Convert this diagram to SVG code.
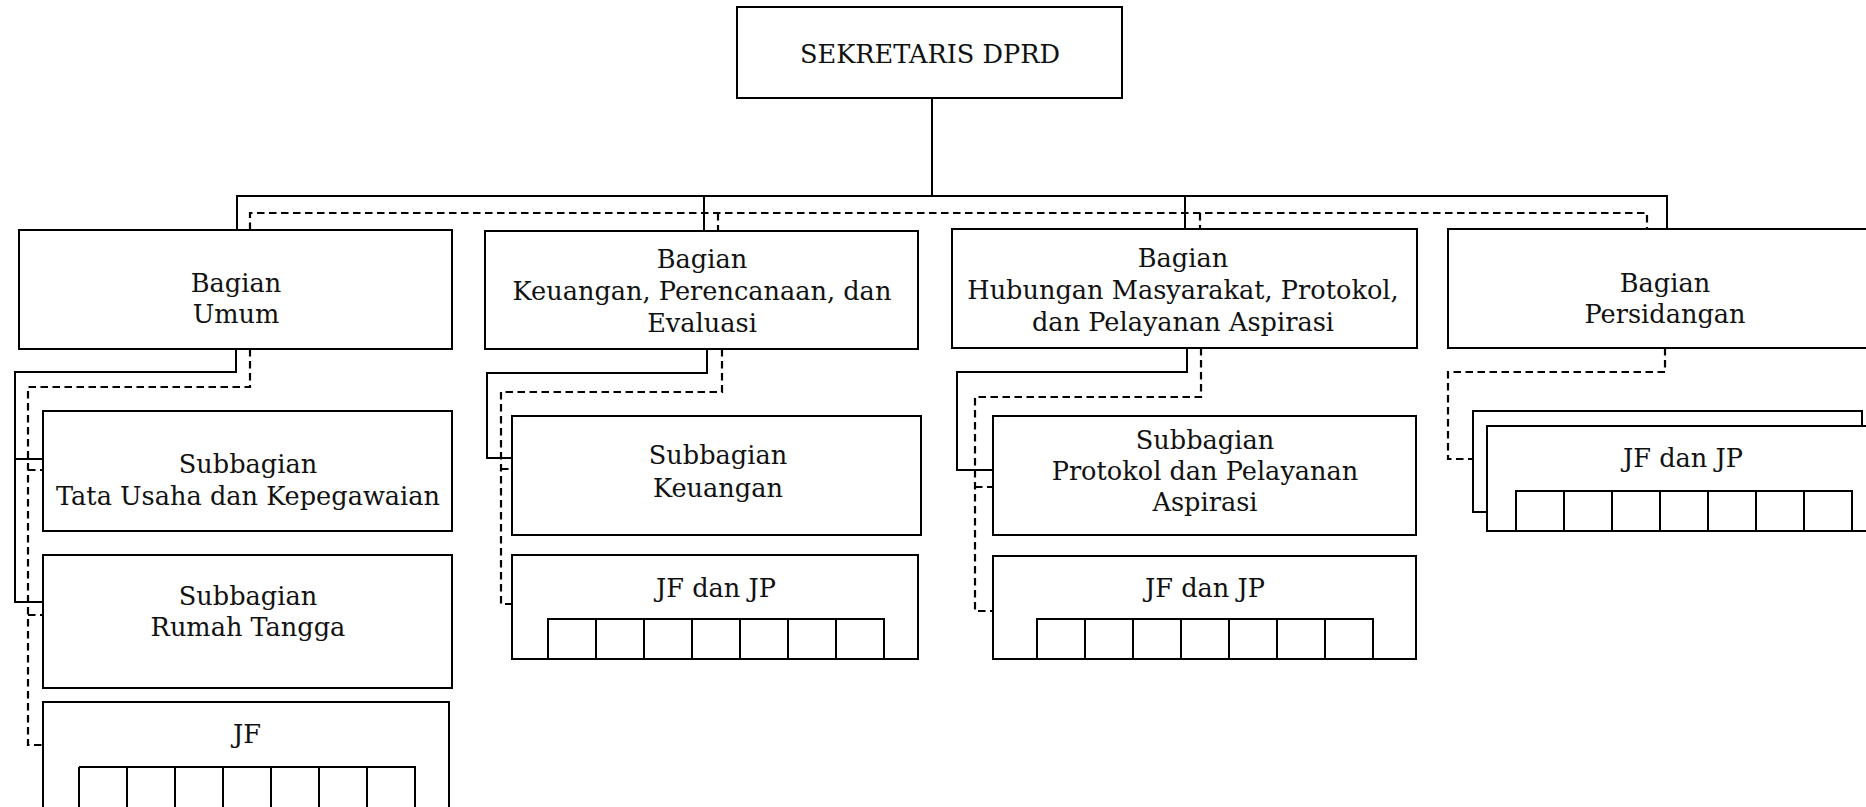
<svg xmlns="http://www.w3.org/2000/svg" width="1866" height="807" viewBox="0 0 1866 807">
<style>
.box{fill:#fff;stroke:#000;stroke-width:2}
.cell{fill:none;stroke:#000;stroke-width:2}
.t{font-family:"DejaVu Serif","Liberation Serif",serif;font-size:25.6px;fill:#111;text-anchor:middle}
.solid{fill:none;stroke:#000;stroke-width:2}
.dash{fill:none;stroke:#000;stroke-width:2.2;stroke-dasharray:7.5 4.5}
</style>
<rect width="1866" height="807" fill="#fff"/>
<g id="connectors">
<path class="solid" d="M932,98 V196 M237,230 V196 H1667 V229 M704,196 V231 M1185,196 V229"/>
<path class="dash" d="M250,230 V213 H1647 V229 M718,213 V231 M1200,213 V229"/>
<path class="solid" d="M236,349 V372 H15 V602 H43 M15,459 H43"/>
<path class="dash" d="M250,349 V387 H28 V745 H43 M28,470 H43 M28,615 H43"/>
<path class="solid" d="M707,349 V373 H487 V458 H512"/>
<path class="dash" d="M722,349 V392 H501 V604 H512 M501,469 H512"/>
<path class="solid" d="M1187,348 V372 H957 V470 H993"/>
<path class="dash" d="M1201,348 V397 H975 V611 H993 M975,487 H993"/>
<path class="dash" d="M1665,348 V372 H1448 V459 H1473"/>
</g>
<g id="sekretaris">
<rect class="box" x="737" y="7" width="385" height="91"/>
<text class="t" x="930" y="63">SEKRETARIS DPRD</text>
</g>
<g id="bagian-umum">
<rect class="box" x="19" y="230" width="433" height="119"/>
<text class="t" x="236" y="292">Bagian</text>
<text class="t" x="236" y="323">Umum</text>
</g>
<g id="bagian-keuangan">
<rect class="box" x="485" y="231" width="433" height="118"/>
<text class="t" x="702" y="268">Bagian</text>
<text class="t" x="702" y="300">Keuangan, Perencanaan, dan</text>
<text class="t" x="702" y="332">Evaluasi</text>
</g>
<g id="bagian-humas">
<rect class="box" x="952" y="229" width="465" height="119"/>
<text class="t" x="1183" y="267">Bagian</text>
<text class="t" x="1183" y="299">Hubungan Masyarakat, Protokol,</text>
<text class="t" x="1183" y="331">dan Pelayanan Aspirasi</text>
</g>
<g id="bagian-persidangan">
<rect class="box" x="1448" y="229" width="440" height="119"/>
<text class="t" x="1665" y="292">Bagian</text>
<text class="t" x="1665" y="323">Persidangan</text>
</g>
<g id="sub-tata-usaha">
<rect class="box" x="43" y="411" width="409" height="120"/>
<text class="t" x="248" y="473">Subbagian</text>
<text class="t" x="248" y="505">Tata Usaha dan Kepegawaian</text>
</g>
<g id="sub-rumah-tangga">
<rect class="box" x="43" y="555" width="409" height="133"/>
<text class="t" x="248" y="605">Subbagian</text>
<text class="t" x="248" y="636">Rumah Tangga</text>
</g>
<g id="jf-umum">
<rect class="box" x="43" y="702" width="406" height="130"/>
<text class="t" x="247" y="743">JF</text>
<path class="cell" d="M79,767 H415 V820 M79,767 V820 M127,767 V820 M175,767 V820 M223,767 V820 M271,767 V820 M319,767 V820 M367,767 V820"/>
</g>
<g id="sub-keuangan">
<rect class="box" x="512" y="416" width="409" height="119"/>
<text class="t" x="718" y="464">Subbagian</text>
<text class="t" x="718" y="497">Keuangan</text>
</g>
<g id="jf-keuangan">
<rect class="box" x="512" y="555" width="406" height="104"/>
<text class="t" x="716" y="597">JF dan JP</text>
<path class="cell" d="M548,659 V619 H884 V659 M596,619 V659 M644,619 V659 M692,619 V659 M740,619 V659 M788,619 V659 M836,619 V659"/>
</g>
<g id="sub-protokol">
<rect class="box" x="993" y="416" width="423" height="119"/>
<text class="t" x="1205" y="449">Subbagian</text>
<text class="t" x="1205" y="480">Protokol dan Pelayanan</text>
<text class="t" x="1205" y="511">Aspirasi</text>
</g>
<g id="jf-humas">
<rect class="box" x="993" y="556" width="423" height="103"/>
<text class="t" x="1205" y="597">JF dan JP</text>
<path class="cell" d="M1037,659 V619 H1373 V659 M1085,619 V659 M1133,619 V659 M1181,619 V659 M1229,619 V659 M1277,619 V659 M1325,619 V659"/>
</g>
<g id="jf-persidangan">
<rect class="box" x="1473" y="411" width="389" height="101"/>
<rect class="box" x="1487" y="426" width="400" height="105"/>
<text class="t" x="1683" y="467">JF dan JP</text>
<path class="cell" d="M1516,531 V491 H1852 V531 M1564,491 V531 M1612,491 V531 M1660,491 V531 M1708,491 V531 M1756,491 V531 M1804,491 V531"/>
</g>
</svg>
